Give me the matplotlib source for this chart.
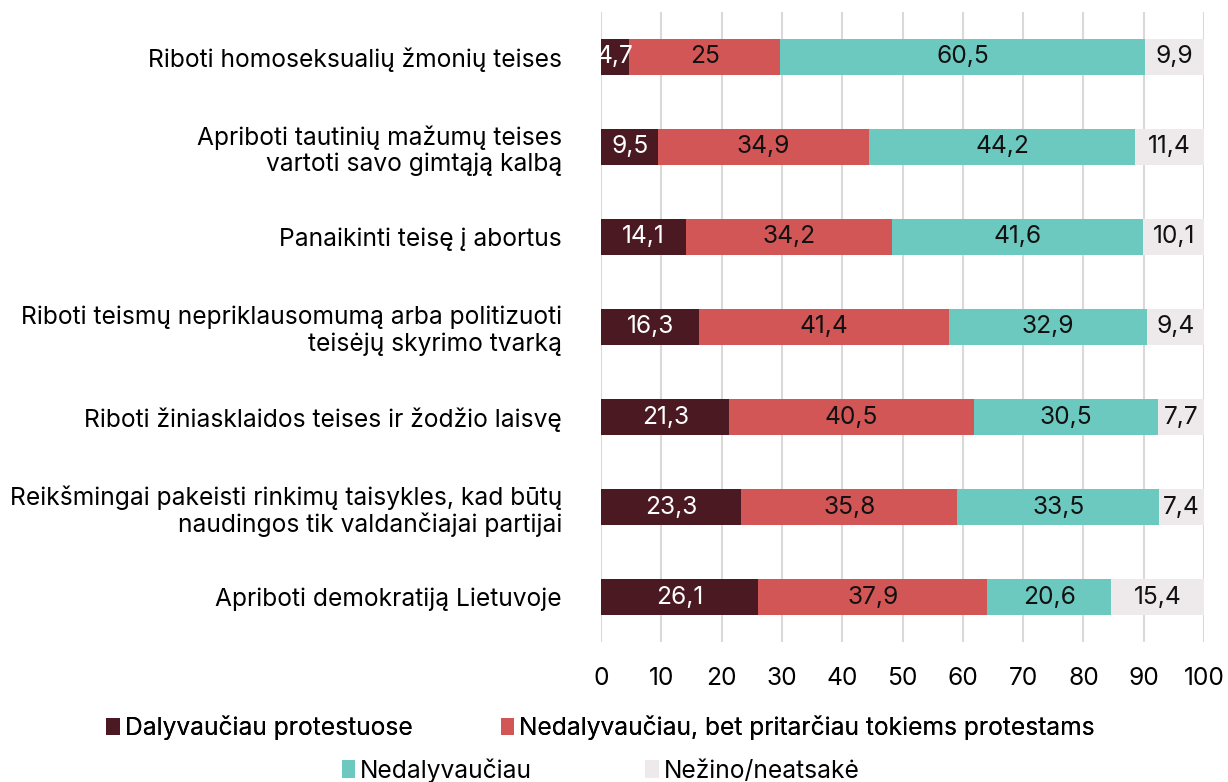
import matplotlib
matplotlib.use("Agg")
import matplotlib.pyplot as plt
import numpy as np
from matplotlib.patches import Patch

plt.rcParams['font.family'] = ['Inter', 'DejaVu Sans']

# Data (top to bottom)
categories = [
    "Riboti homoseksualių žmonių teises",
    "Apriboti tautinių mažumų teises\nvartoti savo gimtąją kalbą",
    "Panaikinti teisę į abortus",
    "Riboti teismų nepriklausomumą arba politizuoti\nteisėjų skyrimo tvarką",
    "Riboti žiniasklaidos teises ir žodžio laisvę",
    "Reikšmingai pakeisti rinkimų taisykles, kad būtų\nnaudingos tik valdančiajai partijai",
    "Apriboti demokratiją Lietuvoje",
]
dalyvauciau = [4.7, 9.5, 14.1, 16.3, 21.3, 23.3, 26.1]
pritarciau = [25, 34.9, 34.2, 41.4, 40.5, 35.8, 37.9]
nedalyvauciau = [60.5, 44.2, 41.6, 32.9, 30.5, 33.5, 20.6]
nezino = [9.9, 11.4, 10.1, 9.4, 7.7, 7.4, 15.4]

series_names = ["Dalyvaučiau protestuose",
                "Nedalyvaučiau, bet pritarčiau tokiems protestams",
                "Nedalyvaučiau",
                "Nežino/neatsakė"]
series = [dalyvauciau, pritarciau, nedalyvauciau, nezino]
colors = ["#4A1921", "#D35656", "#6CC9C0", "#EEEAEB"]
label_colors = ["white", "#111111", "#111111", "#111111"]

FS = 17.7

fig = plt.figure(figsize=(12.28, 7.82), dpi=100)
ax = fig.add_axes([0.4894, 0.179, 0.4911, 0.8057])

y = np.arange(len(categories))
left = np.zeros(len(categories))
for vals, col, lc in zip(series, colors, label_colors):
    vals = np.array(vals)
    bars = ax.barh(y, vals, left=left, height=0.4, color=col, zorder=3)
    for b, v in zip(bars, vals):
        ax.text(b.get_x() + b.get_width() / 2, b.get_y() + b.get_height() / 2,
                f"{v:g}".replace(".", ","), ha="center", va="center",
                color=lc, fontsize=FS, zorder=4)
    left += vals

ax.set_ylim(len(categories) - 0.5, -0.5)
ax.set_xlim(0, 100)
ax.set_xticks(np.arange(0, 101, 10))
ax.set_yticks(y)
ax.set_yticklabels(categories, fontsize=FS, linespacing=1.15)
ax.tick_params(axis="y", length=0, pad=28)
ax.tick_params(axis="x", length=0, pad=18, labelsize=FS)
ax.grid(axis="x", color="#D9D9D9", linewidth=1.5, zorder=0)
for s in ax.spines.values():
    s.set_visible(False)

handles = [Patch(facecolor=c, edgecolor="none") for c in colors]
leg1 = fig.legend(handles[:2], series_names[:2], loc="center", ncol=2,
                  bbox_to_anchor=(0.489, 0.069), frameon=False, fontsize=FS,
                  handlelength=0.55, handleheight=0.7, handletextpad=0.2,
                  columnspacing=3.6)
leg2 = fig.legend(handles[2:], series_names[2:], loc="center", ncol=2,
                  bbox_to_anchor=(0.489, 0.015), frameon=False, fontsize=FS,
                  handlelength=0.55, handleheight=0.7, handletextpad=0.2,
                  columnspacing=4.6)
fig.add_artist(leg1)

fig.savefig("out.png", dpi=100)
